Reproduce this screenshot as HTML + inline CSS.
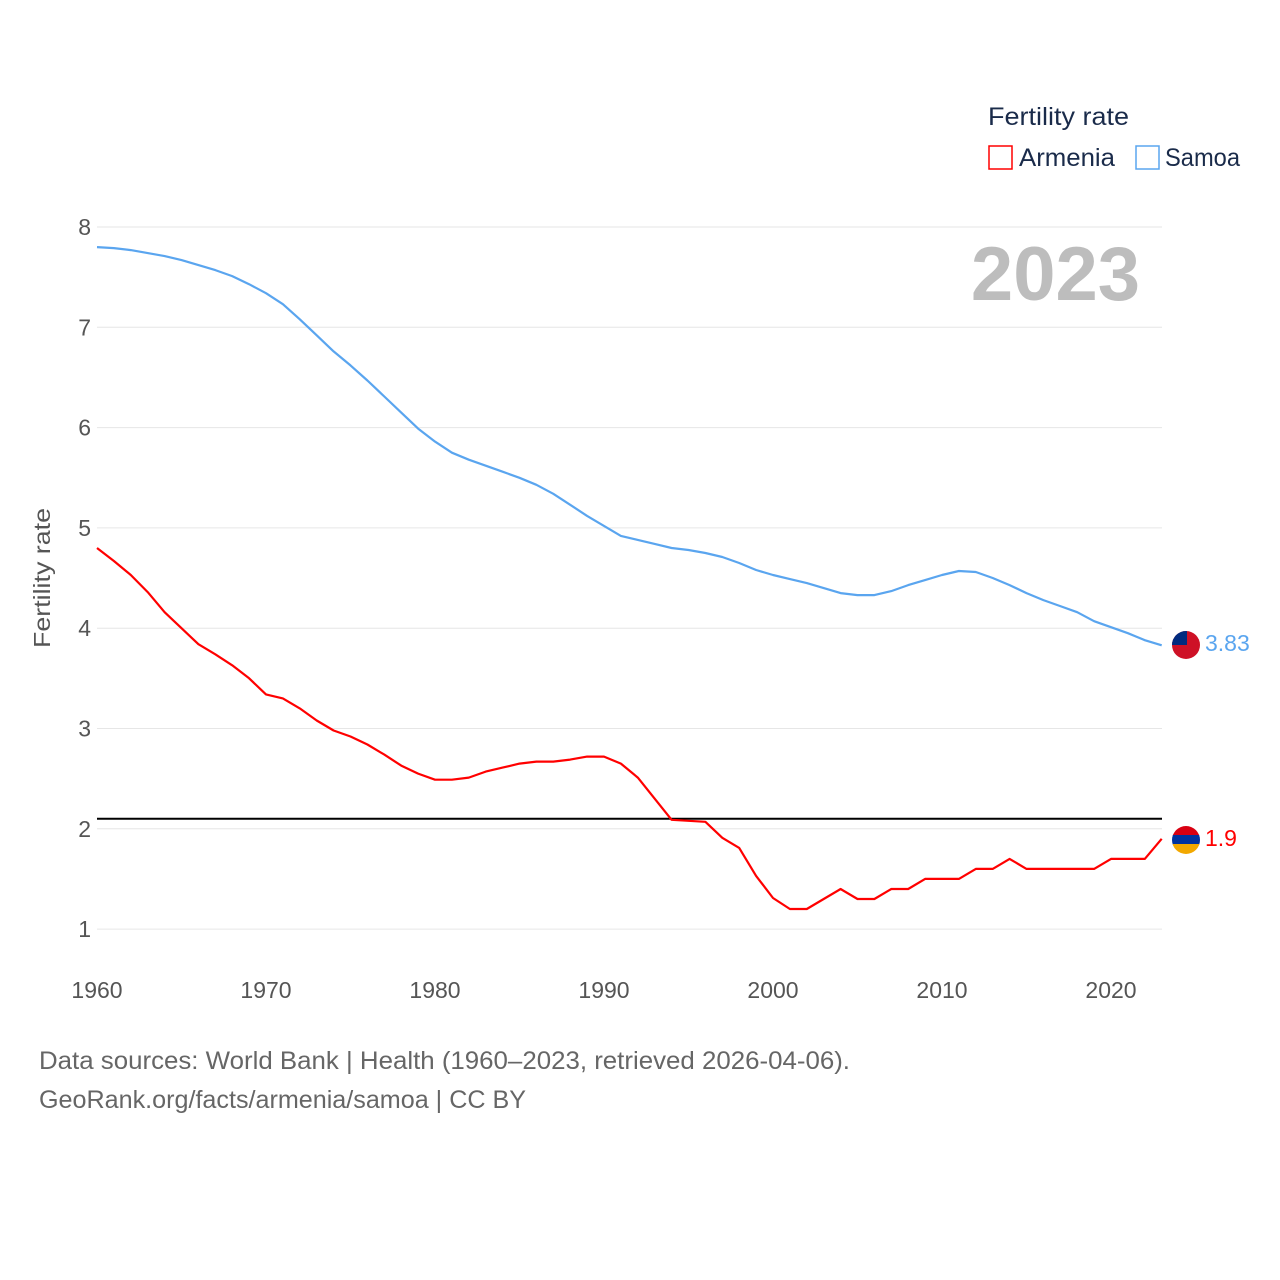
<!DOCTYPE html>
<html><head><meta charset="utf-8"><style>
html,body{margin:0;padding:0;background:#fff;}
svg{display:block;font-family:"Liberation Sans",sans-serif;}
</style></head><body>
<svg id="chart" width="1280" height="1280" viewBox="0 0 1280 1280">
<defs>
<clipPath id="cs"><circle cx="1186" cy="645" r="14"/></clipPath>
<clipPath id="ca"><circle cx="1186" cy="840" r="14"/></clipPath>
</defs>
<g id="grid"></g>
<g id="yticks"></g>
<g id="xticks"></g>
<text transform="translate(50,578) rotate(-90)" text-anchor="middle" font-size="23" fill="#555" textLength="140" lengthAdjust="spacingAndGlyphs">Fertility rate</text>
<text x="1140" y="300" text-anchor="end" font-size="76" font-weight="bold" fill="#bdbdbd">2023</text>
<g>
<text x="988" y="125" font-size="25" fill="#1a2b4a" textLength="141" lengthAdjust="spacingAndGlyphs">Fertility rate</text>
<rect x="989" y="146" width="23" height="23" fill="none" stroke="#f00" stroke-width="1.5"/>
<text x="1019" y="166" font-size="25" fill="#1a2b4a" textLength="96" lengthAdjust="spacingAndGlyphs">Armenia</text>
<rect x="1136" y="146" width="23" height="23" fill="none" stroke="#5aa5ef" stroke-width="1.5"/>
<text x="1165" y="166" font-size="25" fill="#1a2b4a" textLength="75" lengthAdjust="spacingAndGlyphs">Samoa</text>
</g>
<g id="series"></g>
<g clip-path="url(#cs)">
<rect x="1172" y="631" width="28" height="28" fill="#ce1126"/>
<rect x="1172" y="631" width="15" height="14" fill="#002b7f"/>
</g>
<g clip-path="url(#ca)">
<rect x="1172" y="826" width="28" height="10" fill="#d90012"/>
<rect x="1172" y="835" width="28" height="10" fill="#0033a0"/>
<rect x="1172" y="844" width="28" height="10" fill="#f2a800"/>
</g>
<text x="1205" y="651" font-size="23" fill="#5aa5ef">3.83</text>
<text x="1205" y="846" font-size="23" fill="#f00">1.9</text>
<text x="39" y="1069" font-size="25" fill="#666" textLength="811" lengthAdjust="spacingAndGlyphs">Data sources: World Bank | Health (1960–2023, retrieved 2026-04-06).</text>
<text x="39" y="1108" font-size="25" fill="#666" textLength="487" lengthAdjust="spacingAndGlyphs">GeoRank.org/facts/armenia/samoa | CC BY</text>
</svg>
<script>
const years=[];for(let y=1960;y<=2023;y++)years.push(y);
const samoa=[7.80,7.79,7.77,7.74,7.71,7.67,7.62,7.57,7.51,7.43,7.34,7.23,7.08,6.92,6.76,6.62,6.47,6.31,6.15,5.99,5.86,5.75,5.68,5.62,5.56,5.50,5.43,5.34,5.23,5.12,5.02,4.92,4.88,4.84,4.80,4.78,4.75,4.71,4.65,4.58,4.53,4.49,4.45,4.40,4.35,4.33,4.33,4.37,4.43,4.48,4.53,4.57,4.56,4.50,4.43,4.35,4.28,4.22,4.16,4.07,4.01,3.95,3.88,3.83];
const armenia=[4.80,4.67,4.53,4.36,4.16,4.00,3.84,3.74,3.63,3.50,3.34,3.30,3.20,3.08,2.98,2.92,2.84,2.74,2.63,2.55,2.49,2.49,2.51,2.57,2.61,2.65,2.67,2.67,2.69,2.72,2.72,2.65,2.51,2.30,2.09,2.08,2.07,1.91,1.81,1.53,1.31,1.20,1.20,1.30,1.40,1.30,1.30,1.40,1.40,1.50,1.50,1.50,1.60,1.60,1.70,1.60,1.60,1.60,1.60,1.60,1.70,1.70,1.70,1.90];
const yTicks=[1,2,3,4,5,6,7,8];
const xTicks=[1960,1970,1980,1990,2000,2010,2020];
const replacement=2.1;
const NS="http://www.w3.org/2000/svg";
const X=y=>97+(y-1960)*16.9;
const Y=v=>227+(8-v)*100.3;
function mk(t,a,p){const e=document.createElementNS(NS,t);for(const k in a)e.setAttribute(k,a[k]);p.appendChild(e);return e;}
const grid=document.getElementById('grid'),yt=document.getElementById('yticks'),xt=document.getElementById('xticks'),ser=document.getElementById('series');
yTicks.forEach(v=>{
 const l=mk('line',{x1:97,x2:1162,y1:Y(v),y2:Y(v),stroke:'#e6e6e6','stroke-width':1},grid);
 
 
 const t=mk('text',{x:91,y:Y(v)+8,'text-anchor':'end','font-size':23,fill:'#555'},yt);t.textContent=v;
 
 
});
xTicks.forEach(v=>{
 const t=mk('text',{x:X(v),y:998,'text-anchor':'middle','font-size':23,fill:'#555'},xt);t.textContent=v;
 
 
});
const ref=mk('line',{x1:97,x2:1162,y1:Y(replacement),y2:Y(replacement),stroke:'#000','stroke-width':2},ser);


function line(vals,col,name){
 const p=mk('path',{d:vals.map((v,i)=>(i?'L':'M')+X(years[i]).toFixed(1)+','+Y(v).toFixed(1)).join(''),fill:'none',stroke:col,'stroke-width':2.2,'stroke-linejoin':'round'},ser);
 
 
}
line(samoa,'#5aa5ef','samoa-line');
line(armenia,'#f00','armenia-line');
</script>
</body></html>
